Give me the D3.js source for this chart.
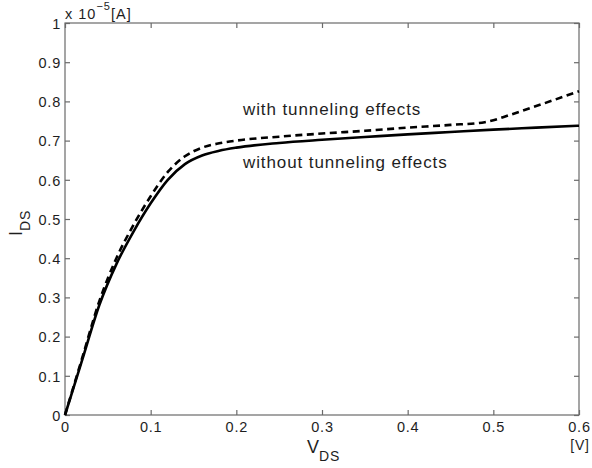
<!DOCTYPE html>
<html>
<head>
<meta charset="utf-8">
<script src="https://cdn.jsdelivr.net/npm/d3@7/dist/d3.min.js"></script>
<style>
  html, body { margin: 0; padding: 0; background: #fff; }
  svg { display: block; font-family: "Liberation Sans", Arial, Helvetica, sans-serif; }
</style>
</head>
<body>
<svg id="chart" width="592" height="468"></svg>
<script>
// Drain voltage (V)
const vdsWithout = [0, 0.02, 0.04, 0.06, 0.08, 0.10, 0.12, 0.14, 0.16, 0.18, 0.20, 0.25, 0.30, 0.35, 0.40, 0.45, 0.50, 0.55, 0.60];
// Drain current without tunneling (x 1e-5 A)
const idsWithout = [0, 0.140, 0.280, 0.385, 0.468, 0.540, 0.600, 0.640, 0.662, 0.674, 0.682, 0.694, 0.702, 0.709, 0.716, 0.722, 0.728, 0.733, 0.738];

const vdsWith = [0, 0.02, 0.04, 0.06, 0.08, 0.10, 0.12, 0.14, 0.16, 0.18, 0.20, 0.25, 0.30, 0.35, 0.40, 0.45, 0.49, 0.52, 0.55, 0.60];
// Drain current with tunneling (x 1e-5 A)
const idsWith = [0, 0.145, 0.290, 0.400, 0.485, 0.558, 0.620, 0.660, 0.682, 0.693, 0.700, 0.710, 0.718, 0.725, 0.733, 0.740, 0.747, 0.766, 0.788, 0.826];

const xTicks = [0, 0.1, 0.2, 0.3, 0.4, 0.5, 0.6];
const yTicks = [0, 0.1, 0.2, 0.3, 0.4, 0.5, 0.6, 0.7, 0.8, 0.9, 1];

const svg = d3.select("#chart");
const L = 65, R = 579, T = 23, B = 415;
const x = d3.scaleLinear().domain([0, 0.6]).range([L, R]);
const y = d3.scaleLinear().domain([0, 1]).range([B, T]);
const axisColor = "#6a6a6a";
const textColor = "#1e1e1e";

// frame
svg.append("rect").attr("x", L).attr("y", T).attr("width", R - L).attr("height", B - T)
  .attr("fill", "none").attr("stroke", axisColor).attr("stroke-width", 1.2);

const fmt = d => d === 0 ? "0" : (d === 1 ? "1" : d3.format(".1f")(d));

// bottom / top / left / right axes with inward ticks
const xb = svg.append("g").attr("transform", `translate(0,${B})`)
  .call(d3.axisBottom(x).tickValues(xTicks).tickSizeInner(-5).tickSizeOuter(0).tickPadding(7).tickFormat(fmt));
const xt = svg.append("g").attr("transform", `translate(0,${T})`)
  .call(d3.axisTop(x).tickValues(xTicks).tickSizeInner(-5).tickSizeOuter(0).tickFormat(""));
const yl = svg.append("g").attr("transform", `translate(${L},0)`)
  .call(d3.axisLeft(y).tickValues(yTicks).tickSizeInner(-5).tickSizeOuter(0).tickPadding(4).tickFormat(fmt));
const yr = svg.append("g").attr("transform", `translate(${R},0)`)
  .call(d3.axisRight(y).tickValues(yTicks).tickSizeInner(-5).tickSizeOuter(0).tickFormat(""));

[xb, xt, yl, yr].forEach(g => {
  g.select(".domain").remove();
  g.selectAll(".tick line").attr("stroke", axisColor).attr("stroke-width", 1.2);
  g.selectAll(".tick text").attr("fill", textColor).style("font-size", "14.5px")
    .style("letter-spacing", "0.8px")
    .style("font-family", "'Liberation Sans', Arial, sans-serif");
});
xb.selectAll(".tick text").attr("dy", "0.71em");
yl.selectAll(".tick text").attr("dy", "0.36em");

// curves
const line = d3.line().x(d => x(d[0])).y(d => y(d[1])).curve(d3.curveMonotoneX);
const solidData = vdsWithout.map((v, i) => [v, idsWithout[i]]);
const dashData = vdsWith.map((v, i) => [v, idsWith[i]]);

svg.append("path").datum(dashData).attr("d", line)
  .attr("fill", "none").attr("stroke", "#000").attr("stroke-width", 2.6)
  .attr("stroke-dasharray", "7,4.5");
svg.append("path").datum(solidData).attr("d", line)
  .attr("fill", "none").attr("stroke", "#000").attr("stroke-width", 2.6);

// annotations
const annStyle = sel => sel.attr("fill", textColor).style("font-size", "17px").style("letter-spacing", "0.9px");
svg.append("text").attr("x", 243).attr("y", 115).call(annStyle).text("with tunneling effects");
svg.append("text").attr("x", 243).attr("y", 168).call(annStyle).text("without tunneling effects");

// scale factor label
const sf = svg.append("text").attr("x", 65).attr("y", 19).attr("fill", textColor)
  .style("font-size", "14.5px").style("letter-spacing", "1px");
sf.append("tspan").text("x 10");
sf.append("tspan").attr("dy", -9).style("font-size", "11px").text("\u22125");
sf.append("tspan").attr("dy", 9).text("[A]");

// axis titles
const xt1 = svg.append("text").attr("x", 307).attr("y", 453).attr("fill", textColor).style("font-size", "18px");
xt1.append("tspan").text("V");
xt1.append("tspan").attr("dy", 8).style("font-size", "14px").style("letter-spacing", "0.8px").text("DS");
svg.append("text").attr("x", 580).attr("y", 450).attr("text-anchor", "middle").attr("fill", textColor)
  .style("font-size", "14px").style("letter-spacing", "0.8px").text("[V]");

const yt1 = svg.append("text").attr("transform", "translate(22,236) rotate(-90)").attr("fill", textColor)
  .style("font-size", "18px");
yt1.append("tspan").text("I");
yt1.append("tspan").attr("dy", 8).style("font-size", "14px").style("letter-spacing", "0.8px").text("DS");
</script>
</body>
</html>
